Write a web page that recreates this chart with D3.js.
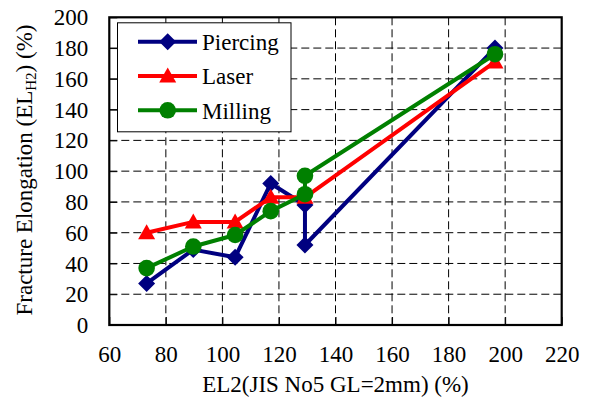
<!DOCTYPE html>
<html><head><meta charset="utf-8"><script src="https://cdn.jsdelivr.net/npm/d3@7"></script></head>
<body style="margin:0">
<svg id="chart" width="589" height="410"></svg>
<script>
// ---- data ----
const seriesNames = ["Piercing", "Laser", "Milling"];
const piercingX = [73.2, 89.7, 104.5, 117.1, 129.2, 129.2, 196.4];
const piercingY = [27, 49, 44, 92, 78, 52, 180];
const laserX = [73.2, 89.7, 104.5, 117.1, 129.2, 196.4];
const laserY = [60, 67, 67, 83, 83, 171];
const millingX = [73.2, 89.7, 104.5, 117.1, 129.2, 129.2, 196.4];
const millingY = [37, 51, 58.5, 74, 85, 97, 176];
const xTicks = [60, 80, 100, 120, 140, 160, 180, 200, 220];
const yTicks = [0, 20, 40, 60, 80, 100, 120, 140, 160, 180, 200];
const xTitle = "EL2(JIS No5 GL=2mm) (%)";

const colors = { Piercing: "#000080", Laser: "#ff0000", Milling: "#008000" };
const shapes = { Piercing: "diamond", Laser: "triangle", Milling: "circle" };

const series = [
  { name: "Piercing", xs: piercingX, ys: piercingY },
  { name: "Laser", xs: laserX, ys: laserY },
  { name: "Milling", xs: millingX, ys: millingY }
];

// ---- layout ----
const FONT = "Liberation Serif";
const pL = 109.3, pR = 561.7, pT = 17.3, pB = 325;
const svg = d3.select("#chart");
const x = d3.scaleLinear().domain([60, 220]).range([pL, pR]);
const y = d3.scaleLinear().domain([0, 200]).range([pB, pT]);

// grid
const grid = svg.append("g");
grid.selectAll("line.gx").data(xTicks.slice(1, -1)).enter().append("line")
  .attr("x1", d => x(d)).attr("x2", d => x(d))
  .attr("y1", pT).attr("y2", pB)
  .attr("stroke", "#000").attr("stroke-width", 1).attr("stroke-dasharray", "8,4");
grid.selectAll("line.gy").data(yTicks.slice(1, -1)).enter().append("line")
  .attr("x1", pL).attr("x2", pR)
  .attr("y1", d => y(d)).attr("y2", d => y(d))
  .attr("stroke", "#000").attr("stroke-width", 1).attr("stroke-dasharray", "8,4");

// axes (ticks inward)
const xAxis = d3.axisBottom(x).tickValues(xTicks).tickSize(-8).tickPadding(21).tickFormat(d3.format("d"));
const yAxis = d3.axisLeft(y).tickValues(yTicks).tickSize(-8).tickPadding(21).tickFormat(d3.format("d"));
const gx = svg.append("g").attr("transform", `translate(0,${pB})`).call(xAxis);
const gy = svg.append("g").attr("transform", `translate(${pL},0)`).call(yAxis);
[gx, gy].forEach(g => {
  g.attr("font-family", null).attr("font-size", null);
  g.select(".domain").remove();
  g.selectAll(".tick line").attr("stroke", "#000").attr("stroke-width", 1);
  g.selectAll(".tick text").attr("fill", "#000");
});
gy.selectAll(".tick text").attr("dy", "0.33em");

// frame
svg.append("rect").attr("x", pL).attr("y", pT)
  .attr("width", pR - pL).attr("height", pB - pT)
  .attr("fill", "none").attr("stroke", "#000").attr("stroke-width", 2.2);

// marker generator
function markerPath(shape) {
  if (shape === "diamond") return "M0,-8.5L8.5,0L0,8.5L-8.5,0Z";
  if (shape === "triangle") return "M0,-8.5L8.5,6.5L-8.5,6.5Z";
  return d3.symbol().type(d3.symbolCircle).size(Math.PI * 8.3 * 8.3)();
}

const line = d3.line().x(d => x(d[0])).y(d => y(d[1]));
series.forEach(s => {
  const pts = s.xs.map((v, i) => [v, s.ys[i]]);
  const g = svg.append("g");
  g.append("path").datum(pts).attr("d", line)
    .attr("fill", "none").attr("stroke", colors[s.name]).attr("stroke-width", 4)
    .attr("stroke-linejoin", "round");
  g.selectAll("path.m").data(pts).enter().append("path")
    .attr("class", "m")
    .attr("transform", d => `translate(${x(d[0])},${y(d[1])})`)
    .attr("d", markerPath(shapes[s.name]))
    .attr("fill", colors[s.name]);
});

// legend
const lg = svg.append("g");
lg.append("rect").attr("x", 117.5).attr("y", 22.8).attr("width", 173.5).attr("height", 109)
  .attr("fill", "#fff").attr("stroke", "#000").attr("stroke-width", 1);
seriesNames.forEach((n, i) => {
  const cy = 41.7 + i * 34.3;
  lg.append("line").attr("x1", 138).attr("x2", 197).attr("y1", cy).attr("y2", cy)
    .attr("stroke", colors[n]).attr("stroke-width", 4);
  lg.append("path").attr("transform", `translate(167.7,${cy})`).attr("d", markerPath(shapes[n]))
    .attr("fill", colors[n]);
  lg.append("text").attr("x", 202).attr("y", cy).attr("dy", "0.36em")
    .attr("fill", "#000").text(n);
});

// axis titles
svg.append("text").attr("x", (pL + pR) / 2).attr("y", 392)
  .attr("text-anchor", "middle").attr("fill", "#000").text(xTitle);

const yt = svg.append("text").attr("transform", "translate(32,170) rotate(-90)")
  .attr("text-anchor", "middle").attr("fill", "#000");
yt.append("tspan").text("Fracture Elongation (EL");
yt.append("tspan").style("font-size", "15px").attr("dy", 4).text("H2");
yt.append("tspan").attr("dy", -4).text(") (%)");

// serif face and size on every text, exactly as a style
svg.selectAll("text").style("font-family", FONT).attr("font-size", 23);
</script>
</body>
</html>
